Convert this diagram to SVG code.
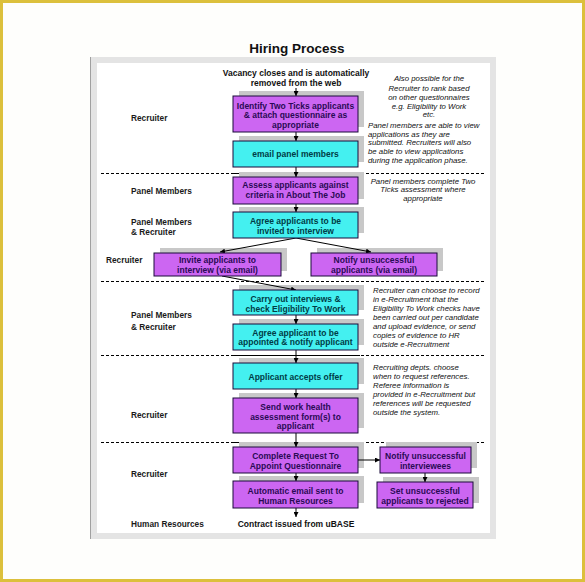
<svg xmlns="http://www.w3.org/2000/svg" width="585" height="582" viewBox="0 0 585 582">
<defs>
<marker id="ah" markerUnits="userSpaceOnUse" markerWidth="5" markerHeight="5" refX="5" refY="2.5" orient="auto">
<path d="M0,0 L5,2.5 L0,5 z" fill="#000"/>
</marker>
<style>
.t{font-family:"Liberation Sans",Arial,sans-serif;font-weight:bold;font-size:8.5px;text-anchor:middle}
.tp{fill:#2a0a55}
.tc{fill:#003c46}
.lane{font-family:"Liberation Sans",Arial,sans-serif;font-weight:bold;font-size:8.3px;fill:#1a1a1a}
.note{font-family:"Liberation Sans",Arial,sans-serif;font-style:italic;font-size:7.8px;fill:#111}
.p{fill:#cc66f2;stroke:#1a0a3a;stroke-width:1}
.c{fill:#44f0f0;stroke:#1a0a3a;stroke-width:1}
.sh{fill:#c8c8c8}
.sep{stroke:#000;stroke-width:1;stroke-dasharray:3,2;fill:none}
.sol{stroke:#000;stroke-width:1;fill:none}
.con{stroke:#000;stroke-width:1;fill:none;marker-end:url(#ah)}
</style>
</defs>
<rect x="0" y="0" width="585" height="582" fill="#fefefc"/>
<rect x="1.5" y="1.5" width="582" height="579" fill="none" stroke="#dcc03c" stroke-width="3"/>
<text x="297" y="53" font-family="'Liberation Sans',Arial,sans-serif" font-weight="bold" font-size="13.5" text-anchor="middle" fill="#111">Hiring Process</text>
<g id="page">
<rect x="90" y="57" width="406" height="482" fill="#e4e4e4"/>
<rect x="97" y="63" width="393" height="470" fill="#ffffff"/>
<line x1="90.5" y1="57" x2="90.5" y2="539" stroke="#a0a0a0"/>
</g>
<g id="separators">
<line class="sep" x1="101" y1="173.5" x2="486" y2="173.5"/>
<line class="sol" x1="233" y1="173.5" x2="360" y2="173.5"/>
<line class="sep" x1="101" y1="281.5" x2="486" y2="281.5"/>
<line class="sep" x1="101" y1="355.5" x2="486" y2="355.5"/>
<line class="sol" x1="233" y1="355.5" x2="360" y2="355.5"/>
<line class="sep" x1="101" y1="442.5" x2="486" y2="442.5"/>
<line class="sol" x1="233" y1="442.5" x2="360" y2="442.5"/>
</g>
<g id="lanes">
<text class="lane" x="131" y="121">Recruiter</text>
<text class="lane" x="131" y="194">Panel Members</text>
<text class="lane" x="131" y="224.5">Panel Members</text>
<text class="lane" x="131" y="234.5">&amp; Recruiter</text>
<text class="lane" x="106" y="263">Recruiter</text>
<text class="lane" x="131" y="318">Panel Members</text>
<text class="lane" x="131" y="329.5">&amp; Recruiter</text>
<text class="lane" x="131" y="418">Recruiter</text>
<text class="lane" x="131" y="477">Recruiter</text>
<text class="lane" x="131" y="527">Human Resources</text>
</g>
<g id="notes">
<text class="t" x="296" y="76" fill="#111">Vacancy closes and is automatically</text>
<text class="t" x="296" y="86" fill="#111">removed from the web</text>
<text class="t" x="296" y="527" fill="#111">Contract issued from uBASE</text>
<text class="note" text-anchor="middle" x="429" y="81">Also possible for the</text>
<text class="note" text-anchor="middle" x="429" y="90.5">Recruiter to rank based</text>
<text class="note" text-anchor="middle" x="429" y="99.5">on other questionnaires</text>
<text class="note" text-anchor="middle" x="429" y="108.5">e.g. Eligibility to Work</text>
<text class="note" text-anchor="middle" x="429" y="117">etc.</text>
<text class="note" x="368" y="128">Panel members are able to view</text>
<text class="note" x="368" y="136.7">applications as they are</text>
<text class="note" x="368" y="145.4">submitted. Recruiters will also</text>
<text class="note" x="368" y="154.1">be able to view  applications</text>
<text class="note" x="368" y="162.8">during the application phase.</text>
<text class="note" text-anchor="middle" x="423" y="183.5">Panel members complete Two</text>
<text class="note" text-anchor="middle" x="423" y="192">Ticks assessment where</text>
<text class="note" text-anchor="middle" x="423" y="200.5">appropriate</text>
<text class="note" x="373" y="293">Recruiter can choose to record</text>
<text class="note" x="373" y="302">in e-Recruitment that the</text>
<text class="note" x="373" y="311">Eligibility To Work checks have</text>
<text class="note" x="373" y="320">been carried out per candidate</text>
<text class="note" x="373" y="329">and upload evidence, or send</text>
<text class="note" x="373" y="338">copies of evidence to HR</text>
<text class="note" x="373" y="347">outside e-Recruitment</text>
<text class="note" x="373" y="370">Recruiting depts. choose</text>
<text class="note" x="373" y="379">when to request references.</text>
<text class="note" x="373" y="388">Referee information is</text>
<text class="note" x="373" y="397">provided in e-Recruitment but</text>
<text class="note" x="373" y="406">references will be requested</text>
<text class="note" x="373" y="415">outside the system.</text>
</g>
<g id="shadows">
<rect class="sh" x="239" y="91" width="125" height="36"/>
<rect class="sh" x="239" y="136" width="125" height="26"/>
<rect class="sh" x="239" y="172" width="125" height="27"/>
<rect class="sh" x="239" y="207" width="125" height="26"/>
<rect class="sh" x="160" y="248" width="127" height="23"/>
<rect class="sh" x="317" y="248" width="126" height="23"/>
<rect class="sh" x="239" y="285" width="125" height="25"/>
<rect class="sh" x="239" y="319" width="125" height="26"/>
<rect class="sh" x="239" y="358" width="125" height="26"/>
<rect class="sh" x="239" y="393" width="125" height="35"/>
<rect class="sh" x="239" y="442" width="125" height="26"/>
<rect class="sh" x="239" y="476" width="125" height="27"/>
<rect class="sh" x="386" y="442" width="91" height="26"/>
<rect class="sh" x="383" y="477" width="96" height="26"/>
</g>
<g id="connectors">
<line class="con" x1="296" y1="88" x2="296" y2="96"/>
<line class="con" x1="296" y1="132" x2="296" y2="141"/>
<line class="con" x1="296" y1="167" x2="296" y2="177"/>
<line class="con" x1="296" y1="204" x2="296" y2="212"/>
<line class="con" x1="296" y1="238" x2="220" y2="252"/>
<line class="con" x1="296" y1="238" x2="371" y2="252"/>
<line class="con" x1="222" y1="276" x2="296" y2="290"/>
<line class="con" x1="296" y1="315" x2="296" y2="324"/>
<line class="con" x1="296" y1="350" x2="296" y2="363"/>
<line class="con" x1="296" y1="389" x2="296" y2="398"/>
<line class="con" x1="296" y1="433" x2="296" y2="447"/>
<line class="con" x1="296" y1="473" x2="296" y2="481"/>
<line class="con" x1="296" y1="508" x2="296" y2="517"/>
<line class="con" x1="358" y1="460" x2="380" y2="460"/>
<line class="con" x1="425" y1="473" x2="425" y2="482"/>
</g>
<g id="n1"><rect class="p" x="233" y="96" width="125" height="36"/>
<text class="t tp" x="295.5" y="108.5">Identify Two Ticks applicants</text>
<text class="t tp" x="295.5" y="118">&amp; attach questionnaire as</text>
<text class="t tp" x="295.5" y="127.5">appropriate</text></g>
<g id="n2"><rect class="c" x="233" y="141" width="125" height="26"/>
<text class="t tc" x="295.5" y="157">email panel members</text></g>
<g id="n3"><rect class="p" x="233" y="177" width="125" height="27"/>
<text class="t tp" x="295.5" y="188">Assess applicants against</text>
<text class="t tp" x="295.5" y="197.5">criteria in About The Job</text></g>
<g id="n4"><rect class="c" x="233" y="212" width="125" height="26"/>
<text class="t tc" x="295.5" y="224">Agree applicants to be</text>
<text class="t tc" x="295.5" y="234">invited to interview</text></g>
<g id="n5"><rect class="p" x="154" y="253" width="127" height="23"/>
<text class="t tp" x="217.5" y="263">Invite applicants to</text>
<text class="t tp" x="217.5" y="273">interview (via email)</text></g>
<g id="n6"><rect class="p" x="311" y="253" width="126" height="23"/>
<text class="t tp" x="374" y="263">Notify unsuccessful</text>
<text class="t tp" x="374" y="273">applicants (via email)</text></g>
<g id="n7"><rect class="c" x="233" y="290" width="125" height="25"/>
<text class="t tc" x="295.5" y="302">Carry out interviews &amp;</text>
<text class="t tc" x="295.5" y="312">check Eligibility To Work</text></g>
<g id="n8"><rect class="c" x="233" y="324" width="125" height="26"/>
<text class="t tc" x="295.5" y="335.5">Agree applicant to be</text>
<text class="t tc" x="295.5" y="345">appointed &amp; notify applicant</text></g>
<g id="n9"><rect class="c" x="233" y="363" width="125" height="26"/>
<text class="t tc" x="295.5" y="379.5">Applicant accepts offer</text></g>
<g id="n10"><rect class="p" x="233" y="398" width="125" height="35"/>
<text class="t tp" x="295.5" y="410">Send work health</text>
<text class="t tp" x="295.5" y="420">assessment form(s) to</text>
<text class="t tp" x="295.5" y="429">applicant</text></g>
<g id="n11"><rect class="p" x="233" y="447" width="125" height="26"/>
<text class="t tp" x="295.5" y="459">Complete Request To</text>
<text class="t tp" x="295.5" y="469">Appoint Questionnaire</text></g>
<g id="n12"><rect class="p" x="233" y="481" width="125" height="27"/>
<text class="t tp" x="295.5" y="494">Automatic email sent to</text>
<text class="t tp" x="295.5" y="504">Human Resources</text></g>
<g id="n13"><rect class="p" x="380" y="447" width="91" height="26"/>
<text class="t tp" x="425.5" y="459">Notify unsuccessful</text>
<text class="t tp" x="425.5" y="469">interviewees</text></g>
<g id="n14"><rect class="p" x="377" y="482" width="96" height="26"/>
<text class="t tp" x="425" y="493.5">Set unsuccessful</text>
<text class="t tp" x="425" y="504">applicants to rejected</text></g>
</svg>
